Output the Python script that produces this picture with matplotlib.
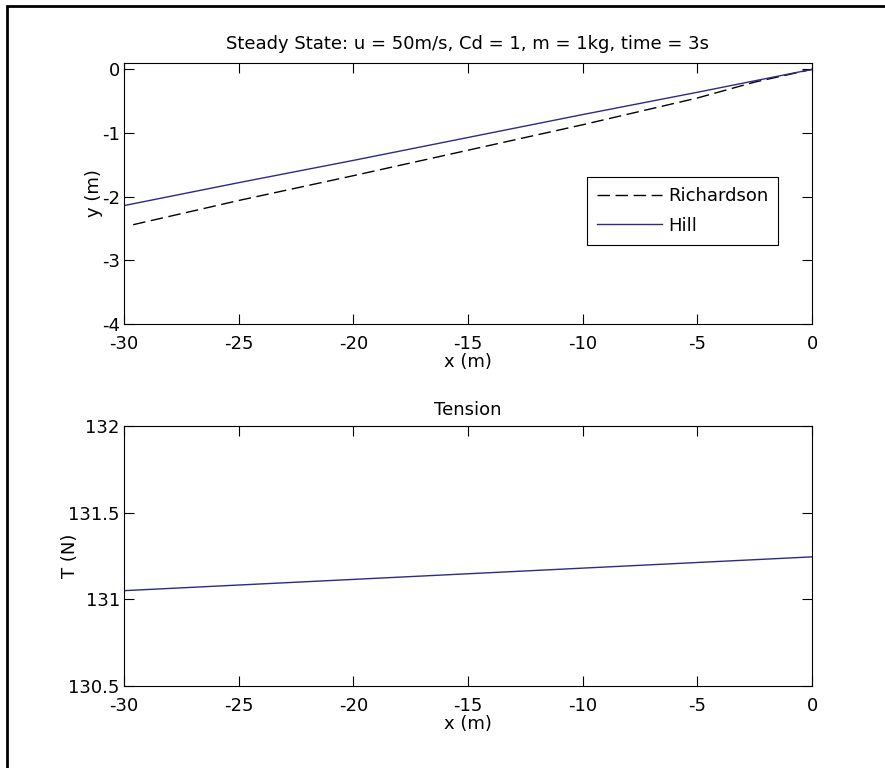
#!/usr/bin/env python3

import matplotlib
matplotlib.use("Agg")
import matplotlib.pyplot as plt
from matplotlib.patches import Rectangle

plt.rcParams["font.family"] = ["DejaVu Sans"]

# shape of the cable, top panel
rich_x = [-29.6, -25, -20, -15, -10, -5, -2.5, 0]
rich_y = [-2.44, -2.06, -1.67, -1.27, -0.87, -0.45, -0.2, 0.0]
hill_x = [-30, -25, -20, -15, -10, -5, 0]
hill_y = [-2.14, -1.78, -1.43, -1.07, -0.71, -0.36, 0.0]

# tension along the cable, bottom panel
tens_x = [-30, -20, -10, 0]
tens_y = [131.05, 131.115, 131.18, 131.245]

x_ticks = [-30, -25, -20, -15, -10, -5, 0]
y_ticks_top = [-4, -3, -2, -1, 0]
y_ticks_bot = [130.5, 131, 131.5, 132]

HILL_COLOR = "#2e2a86"
FS = 13

fig = plt.figure(figsize=(8.85, 7.68), dpi=100)

# figure border (only left/top edges fall inside the picture)
fig.patches.append(Rectangle((7 / 885, -0.05), 1.2, (768 - 6) / 768 + 0.05,
                             transform=fig.transFigure, fill=False,
                             edgecolor="black", linewidth=2))


def style(ax):
    ax.tick_params(direction="in", length=7, width=0.8, top=True, right=True,
                   labelsize=FS, pad=3)
    ax.tick_params(axis="x", pad=8)
    for s in ax.spines.values():
        s.set_linewidth(0.8)
    ax.set_xticks(x_ticks)
    ax.set_xticklabels([str(t) for t in x_ticks])
    ax.set_xlim(-30, 0)


ax1 = fig.add_axes([124 / 885, 1 - 324 / 768, 688 / 885, 261 / 768])
ax1.plot(rich_x, rich_y, color="black", linestyle=(0, (9, 4)), linewidth=1,
         label="Richardson")
ax1.plot(hill_x, hill_y, color=HILL_COLOR, linewidth=1, label="Hill")
ax1.set_ylim(-4, 0.1)
ax1.set_yticks(y_ticks_top)
ax1.set_yticklabels([str(t) for t in y_ticks_top])
style(ax1)
ax1.set_xlabel("x (m)", fontsize=FS, labelpad=0)
ax1.set_ylabel("y (m)", fontsize=FS)
ax1.yaxis.set_label_coords(-0.03, 0.5)
ax1.set_title("Steady State: u = 50m/s, Cd = 1, m = 1kg, time = 3s",
              fontsize=FS, pad=10)
leg = ax1.legend(loc="upper right", bbox_to_anchor=(0.9506, 0.563), fontsize=FS,
                 fancybox=False, edgecolor="black", framealpha=1,
                 handlelength=3.6, handletextpad=0.3, borderpad=0.55,
                 labelspacing=0.65, borderaxespad=0)
leg.get_frame().set_linewidth(0.8)

ax2 = fig.add_axes([124 / 885, 1 - 686 / 768, 688 / 885, 260 / 768])
ax2.plot(tens_x, tens_y, color=HILL_COLOR, linewidth=1)
ax2.set_ylim(130.5, 132)
ax2.set_yticks(y_ticks_bot)
ax2.set_yticklabels(["130.5", "131", "131.5", "132"])
style(ax2)
ax2.set_xlabel("x (m)", fontsize=FS, labelpad=0)
ax2.set_ylabel("T (N)", fontsize=FS)
ax2.yaxis.set_label_coords(-0.065, 0.5)
ax2.set_title("Tension", fontsize=FS, pad=8)

fig.savefig("out.png", dpi=100)
